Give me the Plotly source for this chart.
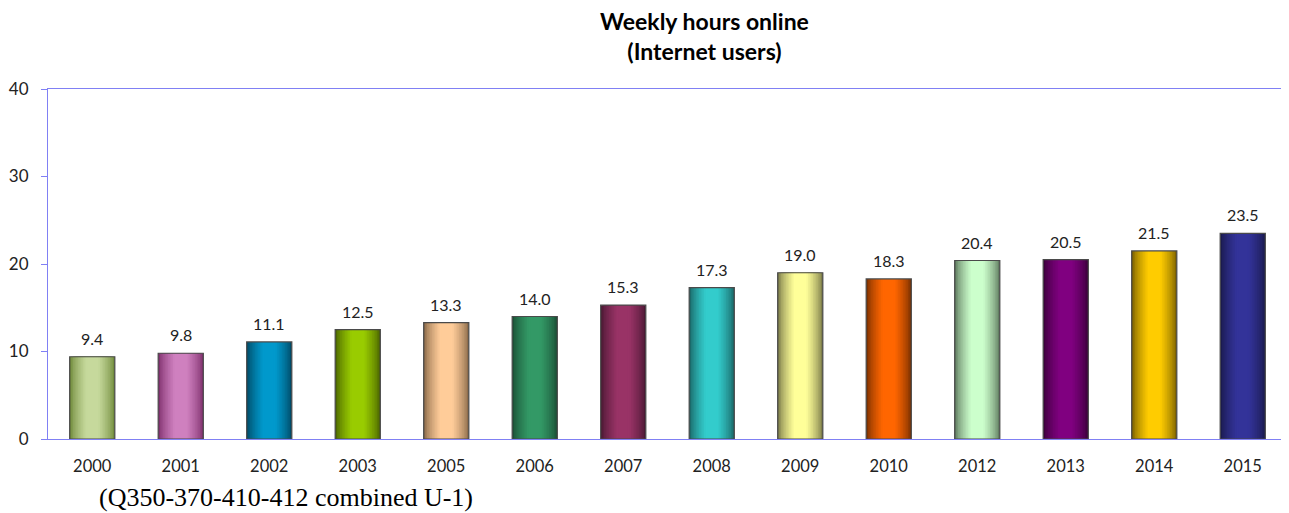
import plotly.graph_objects as go

years = ["2000", "2001", "2002", "2003", "2005", "2006", "2007", "2008", "2009", "2010", "2012", "2013", "2014", "2015"]
hours = [9.4, 9.8, 11.1, 12.5, 13.3, 14.0, 15.3, 17.3, 19.0, 18.3, 20.4, 20.5, 21.5, 23.5]
center_colors = ["#c6d99c", "#cf80bf", "#0099cc", "#99cc00", "#ffcc99", "#339966", "#993366",
                 "#33cccc", "#ffff99", "#ff6600", "#ccffcc", "#800080", "#ffcc00", "#333399"]
edge_colors = ["#6f8a3a", "#7e2f6c", "#004a66", "#4a6300", "#8a6a4a", "#1b4f35", "#4a1833",
               "#1a6666", "#7a7a48", "#7a3000", "#5f7a5f", "#3a003a", "#7a6000", "#1a1a4d"]


def hex_to_rgb(h):
    h = h.lstrip("#")
    return [int(h[i:i + 2], 16) for i in (0, 2, 4)]


def mix(c1, c2, t):
    a, b = hex_to_rgb(c1), hex_to_rgb(c2)
    return "rgb(%d,%d,%d)" % tuple(round(a[i] + (b[i] - a[i]) * t) for i in range(3))


fig = go.Figure()
full_w = 0.51
layers = 12
for k in range(layers):
    t = k / (layers - 1)
    w = full_w * (1 - t * 0.8)
    cols = [mix(e, c, min(1.0, (t * 1.15) ** 0.7)) for e, c in zip(edge_colors, center_colors)]
    fig.add_trace(go.Bar(
        x=years, y=hours, width=w,
        marker=dict(color=cols, line=dict(width=0)),
        hoverinfo="skip", showlegend=False,
    ))

# outline
fig.add_trace(go.Bar(
    x=years, y=hours, width=full_w,
    marker=dict(color="rgba(0,0,0,0)", line=dict(color="#4a4a4a", width=1.2)),
    showlegend=False,
))

axis_col = "#8080f4"
font_fam = "Lato, Noto Sans, sans-serif"

# page body has an 8px offset; compensate so plot area spans x 47..1288, y 89..439
W, H = 1281, 505
ml, mt = 39, 81
mr = 8 + W - 1288
mb = 8 + H - 439
plot_w = W - ml - mr
plot_h = H - mt - mb

annotations = [
    dict(x=i, y=v, xref="x", yref="y", text="%.1f" % v, showarrow=False, yanchor="bottom", yshift=7,
         font=dict(family=font_fam, size=16, color="#222222"))
    for i, v in enumerate(hours)
]
annotations += [
    dict(text="<b>Weekly hours online</b><br><b>(Internet users)</b>", xref="paper", yref="paper",
         x=(705 - 47) / plot_w, y=1 + (mt - 28) / plot_h, showarrow=False,
         font=dict(family=font_fam, size=23, color="black"),
         xanchor="center", yanchor="middle"),
    dict(text="(Q350-370-410-412 combined U-1)", xref="paper", yref="paper",
         x=(96 - 47) / plot_w, y=-(497 - 439) / plot_h, showarrow=False,
         font=dict(family="Liberation Serif, DejaVu Serif, serif", size=26, color="black"),
         xanchor="left", yanchor="middle"),
]

fig.update_layout(
    barmode="overlay",
    width=W, height=H,
    margin=dict(l=ml, r=mr, t=mt, b=mb),
    plot_bgcolor="white", paper_bgcolor="white",
    font=dict(family=font_fam, size=17, color="#222222"),
    xaxis=dict(type="category", range=[-0.5, len(years) - 0.5], showline=True, linecolor=axis_col,
               linewidth=1.2, mirror=True, ticks="", showgrid=False, tickfont=dict(size=16.5),
               ticklabelstandoff=12),
    yaxis=dict(range=[0, 40], dtick=10, showline=True, linecolor=axis_col, linewidth=1.2,
               mirror=True, ticks="outside", ticklen=6, tickcolor=axis_col,
               showgrid=False, zeroline=False, tickfont=dict(size=17), ticklabelstandoff=9),
    annotations=annotations,
)

fig.write_html("out.html")
